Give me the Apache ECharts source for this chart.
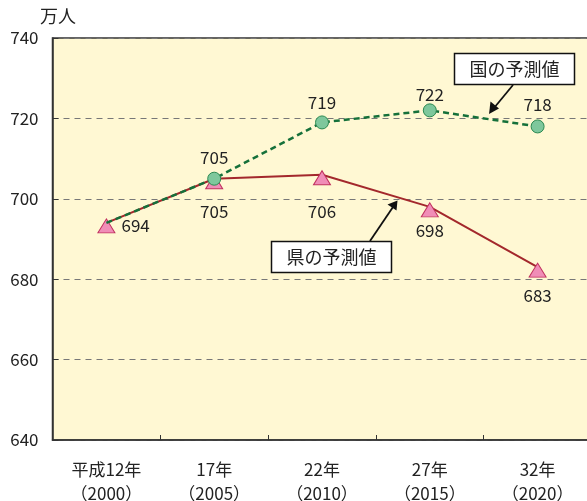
<!DOCTYPE html>
<html><head><meta charset="utf-8">
<script src="https://cdn.jsdelivr.net/npm/echarts@6/dist/echarts.min.js"></script>
<style>html,body{margin:0;padding:0;background:#fff}#c{width:587px;height:501px}</style>
</head><body><div id="c"></div>
<script>
var categories = ['平成12年\n（2000）', '17年\n（2005）', '22年\n（2010）', '27年\n（2015）', '32年\n（2020）'];
var prefValues = [694, 705, 706, 698, 683];
var nationValues = [694, 705, 719, 722, 718];
var yTicks = [640, 660, 680, 700, 720, 740];
var unitLabel = '万人';
var prefName = '県の予測値';
var nationName = '国の予測値';

var FONT = '"Noto Sans CJK JP", "Noto Sans", sans-serif';
var chart = echarts.init(document.getElementById('c'));
var prefLabelPos = ['right', 'bottom', 'bottom', 'bottom', 'bottom'];
var prefLabelDist = [6, 14, 18, 5, 9];
var nationLabelDist = [0, 6, 4, 0, 6];

chart.setOption({
  animation: false,
  grid: { left: 52.5, right: -4.5, top: 38, bottom: 61, containLabel: false, outerBoundsMode: 'none', show: true, backgroundColor: '#FFF8D3', borderWidth: 1.5, borderColor: '#333' },
  xAxis: {
    type: 'category', data: categories, boundaryGap: true,
    axisLine: { show: true, lineStyle: { color: '#333', width: 1.5 } },
    axisTick: { show: true, inside: true, length: 5, lineStyle: { color: '#333', width: 1 } },
    axisLabel: { color: '#222', fontSize: 17, fontFamily: FONT, lineHeight: 24, margin: 18 },
    splitLine: { show: false }
  },
  yAxis: {
    type: 'value', min: yTicks[0], max: yTicks[yTicks.length - 1], interval: 20,
    axisLine: { show: true, lineStyle: { color: '#333', width: 1.5 } },
    axisTick: { show: true, inside: true, length: 6, lineStyle: { color: '#333', width: 1 } },
    axisLabel: { color: '#222', fontSize: 17, fontFamily: FONT, margin: 14 },
    splitLine: { show: true, lineStyle: { color: '#777', type: [6, 5], width: 1 } }
  },
  series: [
    {
      name: prefName, type: 'line', z: 3,
      data: prefValues.map(function (v, i) {
        return { value: v, label: { position: prefLabelPos[i], distance: prefLabelDist[i] } };
      }),
      symbol: 'triangle', symbolSize: [17, 14], symbolOffset: [0, 3],
      lineStyle: { color: '#A3282C', width: 2 },
      itemStyle: { color: '#F08DB7', borderColor: '#C0305E', borderWidth: 1 },
      label: { show: true, color: '#222', fontSize: 17, fontFamily: FONT }
    },
    {
      name: nationName, type: 'line', z: 4,
      data: nationValues.map(function (v, i) {
        return i === 0 ? { value: v, symbol: 'none', label: { show: false } } : { value: v, label: { distance: nationLabelDist[i] } };
      }),
      symbol: 'circle', symbolSize: 13,
      lineStyle: { color: '#15703A', width: 2.5, type: [6, 4] },
      itemStyle: { color: '#7EC79C', borderColor: '#2C8A52', borderWidth: 1 },
      label: { show: true, position: 'top', color: '#222', fontSize: 17, fontFamily: FONT }
    }
  ],
  graphic: [
    { type: 'text', left: 40, top: 7, style: { text: unitLabel, fontSize: 18, fontFamily: FONT, fill: '#222' } },
    // national annotation
    { type: 'line', shape: { x1: 513, y1: 85, x2: 494, y2: 108 }, style: { stroke: '#111', lineWidth: 1.8 }, z: 10 },
    { type: 'polygon', shape: { points: [[489, 114], [490.5, 101.5], [499, 108.5]] }, style: { fill: '#111' }, z: 10 },
    { type: 'rect', shape: { x: 454.5, y: 53.5, width: 120, height: 31 }, style: { fill: '#fff', stroke: '#111', lineWidth: 1.5 }, z: 10 },
    { type: 'text', x: 514.5, y: 69, style: { text: nationName, fontSize: 18, fontFamily: FONT, fill: '#222', align: 'center', verticalAlign: 'middle' }, z: 11 },
    // prefecture annotation
    { type: 'line', shape: { x1: 370, y1: 241, x2: 393, y2: 207 }, style: { stroke: '#111', lineWidth: 1.8 }, z: 10 },
    { type: 'polygon', shape: { points: [[397.5, 200.5], [387.5, 204.5], [396.5, 210.5]] }, style: { fill: '#111' }, z: 10 },
    { type: 'rect', shape: { x: 271.5, y: 241.5, width: 120, height: 31 }, style: { fill: '#fff', stroke: '#111', lineWidth: 1.5 }, z: 10 },
    { type: 'text', x: 331.5, y: 257, style: { text: prefName, fontSize: 18, fontFamily: FONT, fill: '#222', align: 'center', verticalAlign: 'middle' }, z: 11 }
  ]
});
</script></body></html>
